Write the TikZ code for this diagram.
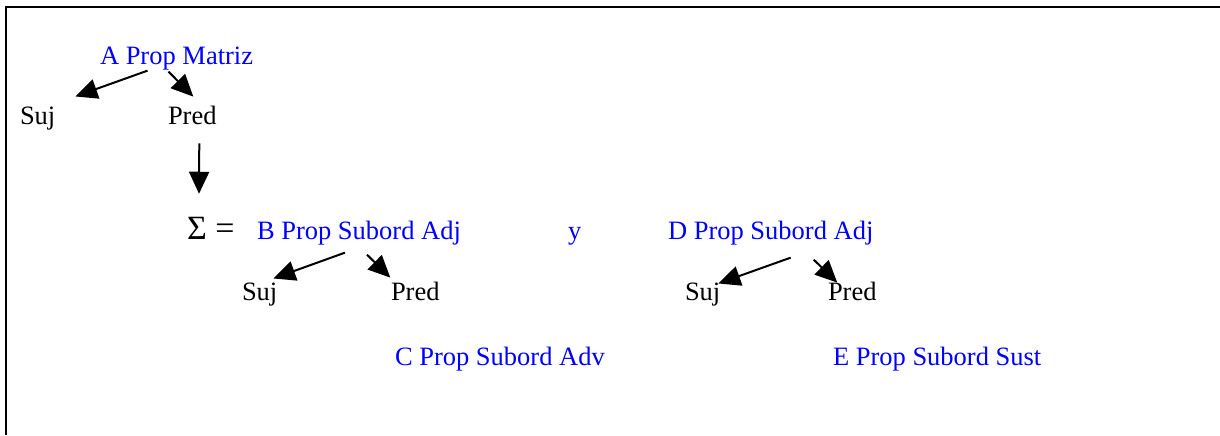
\documentclass[tikz,border=0pt]{standalone}
\usepackage{fontspec}
\setmainfont{Liberation Serif}
\usetikzlibrary{arrows.meta}
\definecolor{propblue}{RGB}{0,0,255}
\tikzset{
  word/.style={anchor=base west,inner sep=0pt,outer sep=0pt,font=\fontsize{13.25}{16}\selectfont},
  prop/.style={word,text=propblue},
  branch/.style={line width=1pt,-{Triangle[length=11pt,width=10pt]}}
}
\begin{document}
\begin{tikzpicture}[x=0.5pt,y=-0.5pt]
\useasboundingbox (0,0) rectangle (1220,435);
\draw[line width=1.25pt] (1220,7) -- (6,7) -- (6,435);
\node[prop] (amatriz) at (100,64) {A Prop Matriz};
\node[word] (suja) at (20,124) {Suj};
\node[word] (preda) at (168,124) {Pred};
\node[word,font=\fontsize{17}{20}\selectfont] (sigma) at (187,239) {Σ =};
\node[prop] (badj) at (257,239) {B Prop Subord Adj};
\node[prop] (yconj) at (568,239) {y};
\node[prop] (dadj) at (668,239) {D Prop Subord Adj};
\node[word] (sujb) at (242,300) {Suj};
\node[word] (predb) at (391,300) {Pred};
\node[word] (sujd) at (685,300) {Suj};
\node[word] (predd) at (828,300) {Pred};
\node[prop] (cadv) at (395,365) {C Prop Subord Adv};
\node[prop] (esust) at (833,365) {E Prop Subord Sust};
\draw[branch] ([shift={(-29,1)}]amatriz.south) -- ([shift={(20,-10)}]suja.north east);
\draw[branch] ([shift={(-8,2)}]amatriz.south) -- ([shift={(1,-9)}]preda.north);
\draw[branch] ([shift={(7,19)}]preda.south) -- ([shift={(12,-23)}]sigma.north west);
\draw[branch] ([shift={(-14,8)}]badj.south) -- ([shift={(-4,-4)}]sujb.north east);
\draw[branch] ([shift={(8,10)}]badj.south) -- ([shift={(-25,-4)}]predb.north);
\draw[branch] ([shift={(20,13)}]dadj.south) -- ([shift={(-2,1)}]sujd.north east);
\draw[branch] ([shift={(43,15)}]dadj.south) -- ([shift={(-15,1)}]predd.north);
\end{tikzpicture}
\end{document}
